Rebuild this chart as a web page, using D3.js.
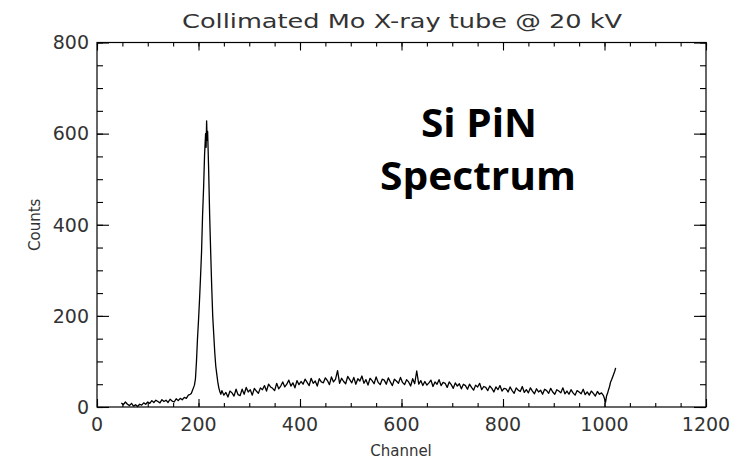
<!DOCTYPE html>
<html>
<head>
<meta charset="utf-8">
<script src="https://cdn.jsdelivr.net/npm/d3@7"></script>
<style>
  html, body { margin: 0; padding: 0; background: #fff; }
  svg { display: block; }
</style>
</head>
<body>
<svg id="chart" width="734" height="462"></svg>
<script>
// ---------- data ----------
const titleText = "Collimated Mo X-ray tube @ 20 kV";
const xLabel = "Channel";
const yLabel = "Counts";
const noteLines = ["Si PiN", "Spectrum"];
const xTicks = [0, 200, 400, 600, 800, 1000, 1200];
const yTicks = [0, 200, 400, 600, 800];

// low-energy region: start channel 48, every 4 channels
const lowStart = 48, lowStep = 4;
const lowCounts = [9, 5, 11, 6, 3, 8, 2, 5, 1, 6, 4, 9, 6, 11, 8, 14, 10, 15, 12, 9,
  16, 12, 15, 10, 17, 13, 11, 18, 14, 19, 16, 21, 19, 26, 28];

// Mo K peak region: explicit channels
const peakChannels = [186, 188, 190, 192, 194, 196, 198, 200, 202, 204, 206, 208, 210, 212,
  214, 215, 216, 217, 218, 220, 222, 224, 226, 228, 230, 232, 234, 236, 238, 240, 242, 244];
const peakCounts = [30, 36, 42, 48, 62, 100, 150, 190, 235, 285, 340, 420, 480, 555,
  600, 570, 628, 585, 605, 520, 420, 340, 265, 200, 160, 120, 90, 72, 55, 42, 34, 28];

// continuum: start channel 246, every 4 channels
const contStart = 246, contStep = 4;
const contCounts = [
  36, 26, 32, 22, 35, 31, 24, 39, 27, 25,
  39, 28, 43, 33, 38, 26, 41, 35, 30, 42,
  38, 47, 35, 50, 44, 41, 36, 52, 40, 46,
  55, 44, 50, 59, 46, 53, 42, 58, 49, 56,
  50, 61, 54, 47, 63, 52, 57, 46, 62, 55,
  53, 64, 58, 49, 66, 55, 61, 80, 52, 63,
  56, 51, 67, 60, 53, 65, 50, 62, 57, 68,
  52, 60, 48, 63, 58, 51, 66, 54, 49, 61,
  59, 50, 64, 55, 47, 61, 57, 52, 65, 54,
  49, 60, 55, 46, 62, 51, 79, 50, 58, 47,
  56, 48, 53, 59, 45, 55, 50, 60, 47, 54,
  52, 43, 55, 49, 41, 53, 46, 51, 40, 50,
  47, 39, 50, 43, 37, 48, 44, 52, 38, 45,
  43, 36, 46, 41, 33, 44, 38, 47, 35, 41,
  40, 33, 44, 36, 30, 42, 37, 34, 45, 32,
  38, 31, 42, 35, 29, 40, 33, 37, 28, 39,
  36, 30, 41, 33, 28, 38, 35, 31, 42, 29,
  35, 28, 38, 31, 26, 36, 33, 29, 39, 27,
  33, 26, 35, 30, 24, 34, 28, 31, 25];

// high end: start channel 1000, every 2 channels
const endStart = 1000, endStep = 2;
const endCounts = [18, 10, 24, 30, 38, 45, 55, 60, 66, 72, 78, 86];

// ---------- assemble points ----------
const points = [];
lowCounts.forEach((c, i) => points.push([lowStart + i * lowStep, c]));
peakCounts.forEach((c, i) => points.push([peakChannels[i], c]));
contCounts.forEach((c, i) => points.push([contStart + i * contStep, c]));
endCounts.forEach((c, i) => points.push([endStart + i * endStep, c]));

// ---------- layout ----------
const svg = d3.select("#chart");
const L = 97, R = 706, T = 42.5, B = 407;
const x = d3.scaleLinear().domain([0, 1200]).range([L, R]);
const y = d3.scaleLinear().domain([0, 800]).range([B, T]);
const font = "'DejaVu Sans', 'Liberation Sans', sans-serif";
const txtColor = "#333";

// frame
svg.append("rect").attr("x", L).attr("y", T).attr("width", R - L).attr("height", B - T)
  .attr("fill", "none").attr("stroke", "#000").attr("stroke-width", 1.2);

// minor ticks
const xMinor = d3.range(0, 1201, 50);
const yMinor = d3.range(0, 801, 50);

function tickAxis(axisGen, transform) {
  const g = svg.append("g").attr("transform", transform).call(axisGen);
  g.select(".domain").remove();
  g.selectAll("line").attr("stroke", "#000").attr("stroke-width", 1.1);
  return g;
}
// bottom / top (x)
tickAxis(d3.axisTop(x).tickValues(xMinor).tickSize(4).tickFormat(""), `translate(0,${B})`);
tickAxis(d3.axisTop(x).tickValues(xTicks).tickSize(8).tickFormat(""), `translate(0,${B})`);
tickAxis(d3.axisBottom(x).tickValues(xMinor).tickSize(4).tickFormat(""), `translate(0,${T})`);
tickAxis(d3.axisBottom(x).tickValues(xTicks).tickSize(8).tickFormat(""), `translate(0,${T})`);
// left / right (y)
tickAxis(d3.axisRight(y).tickValues(yMinor).tickSize(6).tickFormat(""), `translate(${L},0)`);
tickAxis(d3.axisRight(y).tickValues(yTicks).tickSize(12).tickFormat(""), `translate(${L},0)`);
tickAxis(d3.axisLeft(y).tickValues(yMinor).tickSize(6).tickFormat(""), `translate(${R},0)`);
tickAxis(d3.axisLeft(y).tickValues(yTicks).tickSize(12).tickFormat(""), `translate(${R},0)`);

// tick labels
svg.append("g").selectAll("text").data(xTicks).join("text")
  .attr("x", d => x(d)).attr("y", 431)
  .attr("text-anchor", "middle")
  .attr("font-family", font).attr("font-size", 19).attr("fill", txtColor)
  .text(d => d);
svg.append("g").selectAll("text").data(yTicks).join("text")
  .attr("x", 89).attr("y", d => y(d)).attr("dy", "0.36em")
  .attr("text-anchor", "end")
  .attr("font-family", font).attr("font-size", 19).attr("fill", txtColor)
  .text(d => d);

// axis titles
svg.append("text").attr("x", 401).attr("y", 456).attr("text-anchor", "middle")
  .attr("font-family", font).attr("font-size", 15).attr("fill", txtColor).text(xLabel);
svg.append("text").attr("transform", `translate(40,${(T + B) / 2}) rotate(-90)`)
  .attr("text-anchor", "middle")
  .attr("font-family", font).attr("font-size", 15).attr("fill", txtColor).text(yLabel);

// title
svg.append("text").attr("x", 402).attr("y", 28).attr("text-anchor", "middle")
  .attr("font-family", font).attr("font-size", 20).attr("fill", txtColor)
  .attr("textLength", 440).attr("lengthAdjust", "spacingAndGlyphs")
  .text(titleText);

// spectrum line
const line = d3.line().x(d => x(d[0])).y(d => y(d[1]));
svg.append("path").datum(points).attr("d", line)
  .attr("fill", "none").attr("stroke", "#000").attr("stroke-width", 1.3)
  .attr("stroke-linejoin", "round");

// annotation
const noteFont = "'Open Sans', 'Lato', 'Liberation Sans', sans-serif";
svg.append("text").attr("x", 479).attr("y", 137).attr("text-anchor", "middle")
  .attr("font-family", noteFont).attr("font-weight", "bold").attr("font-size", 39)
  .attr("fill", "#000").attr("textLength", 116).attr("lengthAdjust", "spacingAndGlyphs")
  .text(noteLines[0]);
svg.append("text").attr("x", 478).attr("y", 190).attr("text-anchor", "middle")
  .attr("font-family", noteFont).attr("font-weight", "bold").attr("font-size", 39)
  .attr("fill", "#000").attr("textLength", 196).attr("lengthAdjust", "spacingAndGlyphs")
  .text(noteLines[1]);
</script>
</body>
</html>
